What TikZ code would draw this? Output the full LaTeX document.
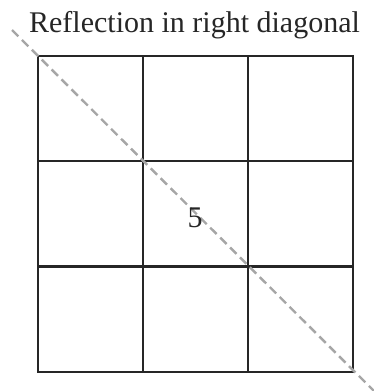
\documentclass[tikz,border=0pt]{standalone}
\usepackage{fontspec}
\setmainfont{Liberation Serif}
\begin{document}
\begin{tikzpicture}[x=1pt,y=-1pt,
  gridline/.style={line width=2.2pt,black!85},
  diag/.style={line width=2.4pt,color=black!35,dash pattern=on 9pt off 5pt},
  lbl/.style={font=\fontsize{30}{34}\selectfont,inner sep=0pt,text=black!85}]
\useasboundingbox (0,0) rectangle (374,391);
\coordinate (tl) at (38,56);
\coordinate (br) at (353,372);
\coordinate (d1) at (12,30);
\coordinate (d2) at (374,391);
\draw[gridline] (tl) rectangle (br);
\draw[gridline] (143,56) -- (143,372);
\draw[gridline] (248,56) -- (248,372);
\draw[gridline] (38,161) -- (353,161);
\draw[gridline] (38,266.5) -- (353,266.5);
\draw[diag] (d1) -- (d2);
\node[lbl,anchor=base] (title) at (194.5,32) {Reflection in right diagonal};
\node[lbl,anchor=base] (five) at (195,227) {5};
\end{tikzpicture}
\end{document}
